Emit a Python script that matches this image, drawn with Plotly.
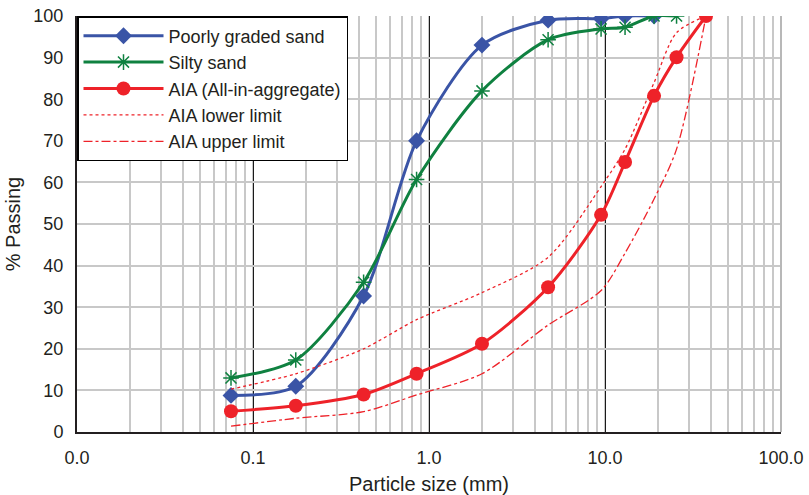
import plotly.graph_objects as go

sizes = [0.075, 0.175, 0.425, 0.85, 2.0, 4.75, 9.5, 13.0, 19.0, 25.5, 37.5]
poorly_graded = [8.8, 11.0, 32.7, 70.0, 93.0, 99.0, 99.4, 100.0, 100.0]
silty_sand = [13.0, 17.3, 36.0, 60.7, 82.0, 94.3, 96.9, 97.3, 100.0, 100.0]
aia = [5.0, 6.3, 9.0, 14.0, 21.2, 34.8, 52.2, 64.9, 80.8, 90.1, 100.0]
aia_lower = [10.3, 14.0, 20.0, 27.0, 33.5, 42.0, 59.0, 68.0, 84.0, 96.0, 100.0]
aia_upper = [1.4, 3.3, 4.9, 8.9, 14.0, 25.7, 34.0, 43.0, 56.0, 68.0, 100.0]

x_tickvals = [0.01, 0.1, 1, 10, 100]
x_ticktext = ["0.0", "0.1", "1.0", "10.0", "100.0"]
y_tickvals = list(range(0, 101, 10))

BLUE = "#3a54a6"
GREEN = "#0f8140"
RED = "#ee2229"
FONT = "Liberation Sans, Arial, sans-serif"

fig = go.Figure()
fig.add_trace(go.Scatter(
    x=sizes[:len(poorly_graded)], y=poorly_graded, name="Poorly graded sand",
    mode="lines+markers", line=dict(color=BLUE, width=3, shape="spline", smoothing=0.8),
    marker=dict(symbol="diamond", size=13, color=BLUE)))
fig.add_trace(go.Scatter(
    x=sizes[:len(silty_sand)], y=silty_sand, name="Silty sand",
    mode="lines+markers", line=dict(color=GREEN, width=3, shape="spline", smoothing=0.8),
    marker=dict(symbol="asterisk-open", size=13, color=GREEN, line=dict(color=GREEN, width=1.5))))
fig.add_trace(go.Scatter(
    x=sizes, y=aia, name="AIA (All-in-aggregate)",
    mode="lines+markers", line=dict(color=RED, width=3, shape="spline", smoothing=0.8),
    marker=dict(symbol="circle", size=14, color=RED)))
fig.add_trace(go.Scatter(
    x=sizes, y=aia_lower, name="AIA lower limit",
    mode="lines", line=dict(color=RED, width=1.3, dash="dot", shape="spline", smoothing=0.8)))
fig.add_trace(go.Scatter(
    x=sizes, y=aia_upper, name="AIA upper limit",
    mode="lines", line=dict(color=RED, width=1.3, dash="dashdot", shape="spline", smoothing=0.8)))

fig.update_layout(
    width=809, height=495,
    margin=dict(l=77, r=28, t=16, b=63, autoexpand=False),
    paper_bgcolor="white", plot_bgcolor="white",
    font=dict(family=FONT, size=18, color="#231f20"),
    showlegend=True,
    legend=dict(x=0.0, y=1.0, xanchor="left", yanchor="top",
                bgcolor="white", bordercolor="black", borderwidth=1.5,
                font=dict(size=18, family=FONT), tracegroupgap=0,
                itemwidth=80),
    xaxis=dict(type="log", range=[-2, 2], tickvals=x_tickvals, ticktext=x_ticktext,
               showgrid=True, gridcolor="#1a1a1a", gridwidth=1.3,
               minor=dict(showgrid=True, gridcolor="#c8c8c8", gridwidth=1.5, dtick="D1"),
               showline=True, linecolor="#231f20", linewidth=2,
               ticks="", ticklabelstandoff=8, automargin=False,
               title=dict(text="Particle size (mm)", standoff=10, font=dict(size=20)),
               tickfont=dict(size=18), zeroline=False),
    yaxis=dict(range=[0, 100], tickvals=y_tickvals,
               showgrid=True, gridcolor="#c8c8c8", gridwidth=1.5,
               showline=True, linecolor="#231f20", linewidth=2,
               ticks="", ticklabelstandoff=8, automargin=False,
               title=dict(text="% Passing", standoff=7, font=dict(size=20)),
               tickfont=dict(size=18), zeroline=False),
    shapes=[dict(type="line", xref="paper", yref="paper", x0=1, x1=1, y0=0, y1=1,
                 line=dict(color="#b8b8b8", width=2), layer="above")],
)

fig.write_html("out.html", config={"displayModeBar": False})

with open("out.html", "r", encoding="utf-8") as f:
    html = f.read()
html = html.replace("<head>", "<head><style>html,body{margin:0;padding:0;overflow:hidden;}</style>", 1)
with open("out.html", "w", encoding="utf-8") as f:
    f.write(html)
